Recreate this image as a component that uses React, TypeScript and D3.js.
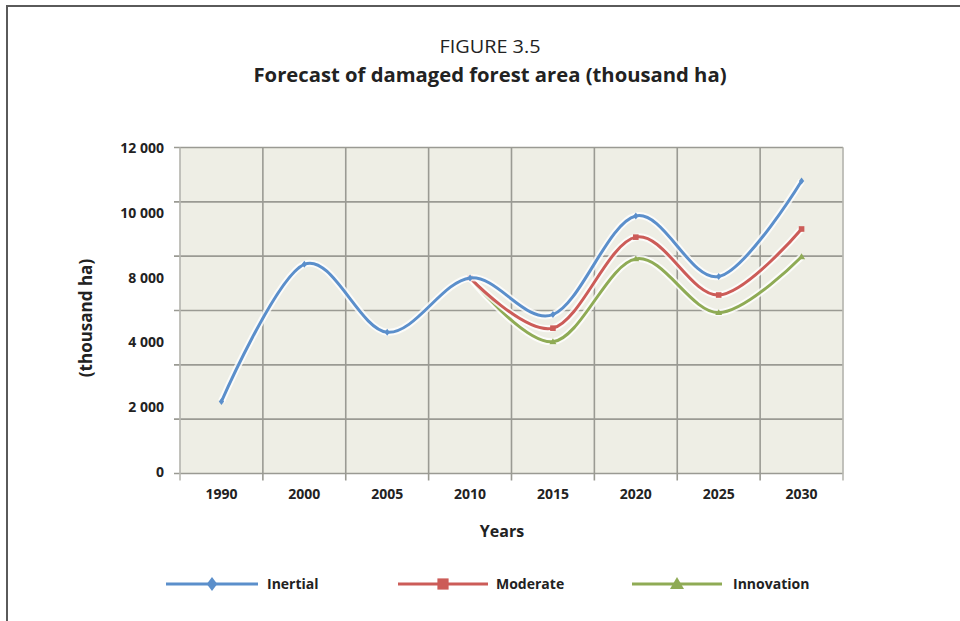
import React from "react";
import * as d3 from "d3";

const years = ["1990", "2000", "2005", "2010", "2015", "2020", "2025", "2030"];
const inertial = [2650, 7700, 5200, 7200, 5850, 9480, 7250, 10770];
const moderate = [null, null, null, 7200, 5350, 8700, 6570, 9000];
const innovation = [null, null, null, 7200, 4850, 7900, 5920, 7980];
const gridValues = [0, 2000, 4000, 6000, 8000, 10000, 12000];
const yTickLabels = ["0", "2 000", "4 000", "8 000", "10 000", "12 000"];

const seriesNames = ["Inertial", "Moderate", "Innovation"];
const seriesColors = ["#5b8fcb", "#cc5c58", "#8fab55"];

const W = 960;
const H = 621;
const plot = { left: 180, right: 843, top: 147.5, bottom: 473.5 };
const FONT = "'Open Sans', 'DejaVu Sans', sans-serif";

function Marker({ kind, x, y, color, size }: { kind: number; x: number; y: number; color: string; size: number }) {
  if (kind === 0) {
    const s = size;
    return <path d={`M${x},${y - s}L${x + s * 0.75},${y}L${x},${y + s}L${x - s * 0.75},${y}Z`} fill={color} />;
  }
  if (kind === 1) {
    const s = size * 0.8;
    return <rect x={x - s} y={y - s} width={s * 2} height={s * 2} fill={color} />;
  }
  const s = size;
  return <path d={`M${x},${y - s}L${x + s},${y + s * 0.7}L${x - s},${y + s * 0.7}Z`} fill={color} />;
}

export default function App() {
  const x = d3.scaleBand<string>().domain(years).range([plot.left, plot.right]);
  const y = d3.scaleLinear().domain([0, 12000]).range([plot.bottom, plot.top]);
  const yLab = d3.scalePoint<string>().domain(yTickLabels).range([472, 148]);
  const cx = (yr: string) => (x(yr) as number) + x.bandwidth() / 2;

  const data = [inertial, moderate, innovation];
  const line = d3
    .line<[string, number | null]>()
    .defined((d) => d[1] != null)
    .x((d) => cx(d[0]))
    .y((d) => y(d[1] as number))
    .curve(d3.curveCardinal.tension(0));

  const boundaries = years.map((yr) => x(yr) as number).concat([plot.right]);

  const legendItems = [
    { x1: 166, x2: 258, tx: 267 },
    { x1: 398, x2: 488, tx: 496 },
    { x1: 632, x2: 722, tx: 733 },
  ];

  return (
    <svg width={W} height={H} style={{ position: "absolute", left: 0, top: 0 }} fontFamily={FONT}>
      <rect width={W} height={H} fill="#ffffff" />
      <line x1={6} y1={6} x2={W} y2={6} stroke="#5a5a5a" strokeWidth={2} />
      <line x1={7} y1={5} x2={7} y2={H} stroke="#5a5a5a" strokeWidth={2} />

      <text x={490} y={53} textAnchor="middle" fontSize={18} fill="#222" textLength={101} lengthAdjust="spacingAndGlyphs">
        FIGURE 3.5
      </text>
      <text
        x={490}
        y={82}
        textAnchor="middle"
        fontSize={20}
        fontWeight="bold"
        fill="#222"
        textLength={473}
        lengthAdjust="spacingAndGlyphs"
      >
        Forecast of damaged forest area (thousand ha)
      </text>

      <rect
        x={plot.left}
        y={plot.top}
        width={plot.right - plot.left}
        height={plot.bottom - plot.top}
        fill="#eeeee5"
        stroke="#d6d6cf"
      />
      {gridValues.map((v) => (
        <line key={"h" + v} x1={plot.left - 6} x2={plot.right} y1={y(v)} y2={y(v)} stroke="#9a9a93" strokeWidth={1.6} />
      ))}
      {boundaries.map((bx, i) => (
        <line
          key={"v" + i}
          x1={bx}
          x2={bx}
          y1={plot.top}
          y2={plot.bottom + 7}
          stroke={i === 0 || i === boundaries.length - 1 ? "#b8b8b2" : "#9a9a93"}
          strokeWidth={1.6}
        />
      ))}

      {yTickLabels.map((t) => (
        <text key={t} x={164} y={(yLab(t) as number) + 5} textAnchor="end" fontSize={14} fontWeight="bold" fill="#222">
          {t}
        </text>
      ))}
      {years.map((yr) => (
        <text key={yr} x={cx(yr)} y={499} textAnchor="middle" fontSize={14} fontWeight="bold" fill="#222">
          {yr}
        </text>
      ))}

      <text
        transform={`translate(92,318) rotate(-90)`}
        textAnchor="middle"
        fontSize={17}
        fontWeight="bold"
        fill="#222"
      >
        (thousand ha)
      </text>
      <text x={502} y={537} textAnchor="middle" fontSize={16} fontWeight="bold" fill="#222">
        Years
      </text>

      {[2, 1, 0].map((si) => {
        const pts = years.map((yr, i) => [yr, data[si][i]] as [string, number | null]);
        const d = line(pts) || "";
        return (
          <g key={si}>
            <path d={d} fill="none" stroke="#ffffff" strokeOpacity={0.8} strokeWidth={7} />
            <path d={d} fill="none" stroke={seriesColors[si]} strokeWidth={3} strokeLinejoin="round" />
            {pts
              .filter((p) => p[1] != null)
              .map((p) => (
                <Marker key={p[0]} kind={si} x={cx(p[0])} y={y(p[1] as number)} color={seriesColors[si]} size={3.5} />
              ))}
          </g>
        );
      })}

      {legendItems.map((it, i) => (
        <g key={i}>
          <line x1={it.x1} x2={it.x2} y1={584} y2={584} stroke={seriesColors[i]} strokeWidth={3} />
          <Marker kind={i} x={(it.x1 + it.x2) / 2} y={584} color={seriesColors[i]} size={7} />
          <text x={it.tx} y={589} fontSize={14} fontWeight="bold" fill="#222">
            {seriesNames[i]}
          </text>
        </g>
      ))}
    </svg>
  );
}
